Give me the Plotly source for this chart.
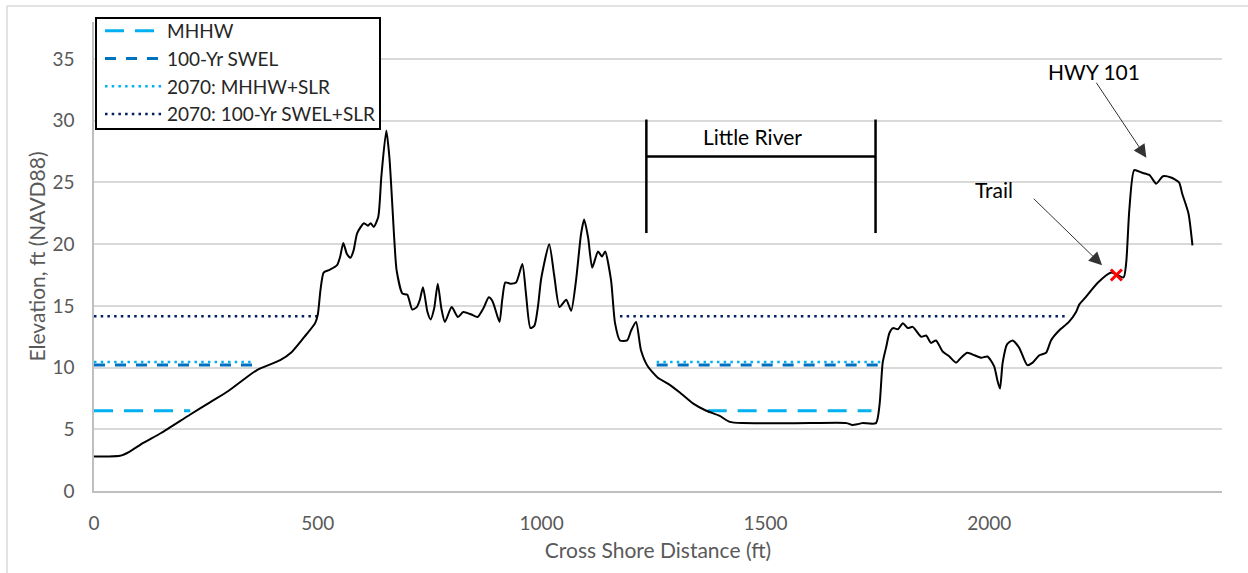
import plotly.graph_objects as go

# ---------------- data ----------------
dist_ft = [0, 30, 58, 80, 110, 150, 215, 260, 300, 364, 416, 440, 468, 494, 500, 506, 513, 525, 543, 550,
           557, 565, 573, 580, 588, 603, 612, 618, 625, 635, 642, 653, 660, 671, 676, 689, 700, 711, 721, 728,
           735, 745, 752, 760, 768, 776, 784, 799, 813, 825, 843, 857, 870, 882, 890, 895, 906, 912, 919, 930,
           943, 957, 965, 975, 984, 992, 999, 1017, 1028, 1040, 1055, 1066, 1077, 1088, 1095, 1104, 1113, 1126,
           1135, 1142, 1155, 1164, 1175, 1191, 1200, 1211, 1222, 1237, 1259, 1282, 1308, 1338, 1368, 1397, 1420,
           1449, 1600, 1681, 1694, 1705, 1716, 1747, 1755, 1762, 1770, 1777, 1785, 1796, 1807, 1818, 1829, 1848,
           1859, 1870, 1881, 1896, 1911, 1926, 1937, 1951, 1967, 1982, 1996, 2011, 2018, 2024, 2030, 2040, 2052,
           2067, 2085, 2097, 2112, 2127, 2138, 2156, 2178, 2194, 2201, 2213, 2243, 2273, 2300, 2306, 2313, 2324,
           2340, 2358, 2373, 2388, 2406, 2424, 2431, 2445, 2454]
elev_ft = [2.8, 2.8, 2.85, 3.2, 3.9, 4.7, 6.2, 7.2, 8.1, 9.8, 10.6, 11.2, 12.4, 13.6, 14.3, 16.3, 17.7, 17.9, 18.3, 19.0,
           20.1, 19.2, 18.9, 19.5, 20.9, 21.7, 21.5, 21.7, 21.4, 22.2, 25.5, 29.2, 27.0, 20.3, 17.9, 16.0, 15.9, 14.7, 14.9, 15.5,
           16.5, 14.5, 13.9, 14.8, 16.8, 14.8, 13.7, 14.9, 14.1, 14.5, 14.3, 14.1, 14.8, 15.7, 15.4, 14.9, 13.7, 15.5, 16.9, 16.8,
           16.9, 18.4, 16.0, 13.2, 13.4, 15.0, 17.2, 20.0, 17.5, 14.9, 15.5, 14.6, 17.1, 20.8, 22.0, 20.5, 18.1, 19.4,
           19.0, 19.4, 17.1, 13.6, 12.2, 12.2, 13.0, 13.7, 11.4, 10.1, 9.2, 8.7, 8.0, 7.1, 6.5, 6.1, 5.6,
           5.5, 5.5, 5.5, 5.35, 5.4, 5.5, 5.5, 7.0, 10.4, 11.7, 12.8, 13.2, 13.1, 13.6, 13.2, 13.3, 12.5,
           12.6, 12.0, 12.2, 11.3, 10.9, 10.4, 10.8, 11.2, 11.0, 10.8, 10.9, 10.1, 9.0, 8.3, 10.4, 11.9, 12.2,
           11.6, 10.2, 10.4, 11.0, 11.2, 12.2, 13.0, 13.7, 14.5, 15.1, 15.6, 16.9, 17.7, 17.3, 18.5, 22.8, 26.0,
           25.8, 25.6, 24.9, 25.5, 25.4, 25.0, 24.1, 22.5, 19.9]

# water levels (ft NAVD88) and the extents where they are drawn
level_names = ["MHHW", "100-Yr SWEL", "2070: MHHW+SLR", "2070: 100-Yr SWEL+SLR"]
level_values = [6.5, 10.2, 10.45, 14.15]
level_x = [
    [0, 215, None, 1371, 1737],
    [0, 364, None, 1257, 1762],
    [0, 355, None, 1257, 1762],
    [0, 500, None, 1175, 2170],
]

trail_x, trail_y = [2284], [17.5]

# annotation anchors (data units)
river_left, river_right = 1234, 1746
river_top, river_bottom, river_bar = 30.1, 20.9, 27.1
river_label = (1472, 28.7)
hwy_text = (2235, 34.0)
hwy_tail, hwy_head = (2237, 33.2), (2351, 27.0)
trail_text = (2011, 24.4)
trail_tail, trail_head = (2096, 23.8), (2252, 18.3)

x_ticks = [0, 500, 1000, 1500, 2000]
y_ticks = [0, 5, 10, 15, 20, 25, 30, 35]

# ---------------- styling ----------------
FONT = "Lato, Calibri, Carlito, sans-serif"
GRAY = "#595959"
styles = [
    dict(color="#00B0F0", width=3, dash="19px,11px"),
    dict(color="#0070C0", width=3, dash="11px,10px"),
    dict(color="#00B0F0", width=2.5, dash="2.5px,4.2px"),
    dict(color="#002060", width=2.5, dash="2.5px,4.2px"),
]

# plot-area geometry (pixels) used for paper-coordinate decorations
L, R, T, B, W, H = 94, 26, 22, 82, 1248, 573
PW, PH = W - L - R, H - T - B


def px_to_paper(px, py):
    return (px - L) / PW, (H - B - py) / PH


fig = go.Figure()

for name, val, xs, st in zip(level_names, level_values, level_x, styles):
    ys = [None if x is None else val for x in xs]
    fig.add_trace(go.Scatter(x=xs, y=ys, mode="lines", name=name, line=st,
                             connectgaps=False, hoverinfo="skip"))

fig.add_trace(go.Scatter(x=dist_ft, y=elev_ft, mode="lines", name="Profile",
                         line=dict(color="black", width=2, shape="spline", smoothing=0.6),
                         showlegend=False))

fig.add_trace(go.Scatter(x=trail_x, y=trail_y, mode="markers", showlegend=False,
                         marker=dict(symbol="x-thin", size=11, line=dict(color="#FF0000", width=3))))

# Little River bracket
for xv in (river_left, river_right):
    fig.add_shape(type="line", x0=xv, x1=xv, y0=river_bottom, y1=river_top,
                  xref="x", yref="y", line=dict(color="black", width=2.5))
fig.add_shape(type="line", x0=river_left, x1=river_right, y0=river_bar, y1=river_bar,
              xref="x", yref="y", line=dict(color="black", width=2.5))
fig.add_annotation(x=river_label[0], y=river_label[1],
                   text="Little River", showarrow=False,
                   font=dict(family=FONT, size=21, color="black"))

# HWY 101 and Trail labels with arrows
fig.add_annotation(x=hwy_text[0], y=hwy_text[1], text="HWY 101", showarrow=False,
                   font=dict(family=FONT, size=21, color="black"))
fig.add_annotation(x=hwy_head[0], y=hwy_head[1], ax=hwy_tail[0], ay=hwy_tail[1],
                   axref="x", ayref="y", xref="x", yref="y", text="", showarrow=True,
                   arrowhead=2, arrowsize=2.6, arrowwidth=1, arrowcolor="#333333")
fig.add_annotation(x=trail_text[0], y=trail_text[1], text="Trail", showarrow=False,
                   font=dict(family=FONT, size=21, color="black"))
fig.add_annotation(x=trail_head[0], y=trail_head[1], ax=trail_tail[0], ay=trail_tail[1],
                   axref="x", ayref="y", xref="x", yref="y", text="", showarrow=True,
                   arrowhead=2, arrowsize=2.6, arrowwidth=1, arrowcolor="#333333")

# outer chart border (left & top)
bx0, by0 = px_to_paper(7, 6)
fig.add_shape(type="line", xref="paper", yref="paper", x0=bx0, x1=bx0, y0=-0.3, y1=by0,
              line=dict(color="#D9D9D9", width=1.5))
fig.add_shape(type="line", xref="paper", yref="paper", x0=bx0, x1=1.1, y0=by0, y1=by0,
              line=dict(color="#D9D9D9", width=1.5))

# legend box
lx0, ly0 = px_to_paper(96, 129)
lx1, ly1 = px_to_paper(380, 18)
fig.add_shape(type="rect", xref="paper", yref="paper", x0=lx0, x1=lx1, y0=ly0, y1=ly1,
              line=dict(color="black", width=2), fillcolor="white", layer="above")
leg_x, leg_y = px_to_paper(100, 12)

fig.update_layout(
    width=W, height=H,
    margin=dict(l=L, r=R, t=T, b=B, autoexpand=False),
    plot_bgcolor="white", paper_bgcolor="white",
    font=dict(family=FONT, size=19, color=GRAY),
    showlegend=True,
    legend=dict(x=leg_x, y=leg_y, xanchor="left", yanchor="top",
                bgcolor="rgba(0,0,0,0)", borderwidth=0,
                font=dict(family=FONT, size=19, color="#262626"),
                itemwidth=57, tracegroupgap=0),
)
fig.update_xaxes(range=[0, 2520], tickvals=x_ticks, showgrid=False, zeroline=False,
                 showline=True, linecolor="#BFBFBF", linewidth=1.5,
                 ticks="", ticklabelstandoff=14,
                 tickfont=dict(family=FONT, size=19, color=GRAY),
                 title=dict(text="Cross Shore Distance (ft)", standoff=11,
                            font=dict(family=FONT, size=21, color=GRAY)))
fig.update_yaxes(range=[0, 38], tickvals=y_ticks, showgrid=True, gridcolor="#D9D9D9", gridwidth=1.5,
                 zeroline=False, showline=True, linecolor="#BFBFBF", linewidth=1.5,
                 ticks="", ticklabelstandoff=14,
                 tickfont=dict(family=FONT, size=19, color=GRAY),
                 title=dict(text="Elevation, ft (NAVD88)", standoff=1,
                            font=dict(family=FONT, size=21, color=GRAY)))

fig.write_html("out.html", config={"displayModeBar": False},
               post_script="document.body.style.margin='0';")
